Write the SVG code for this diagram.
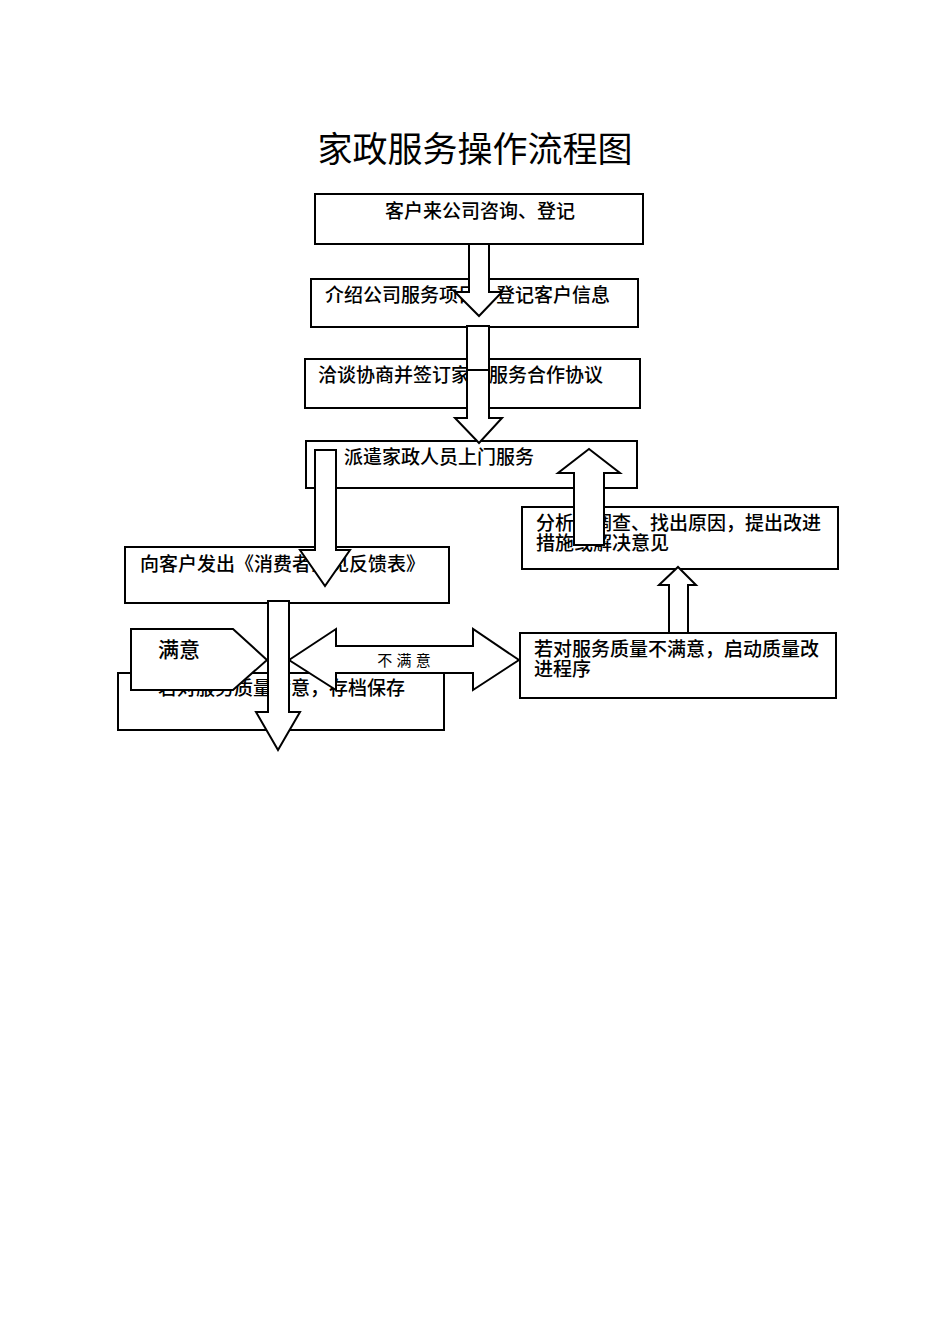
<svg xmlns="http://www.w3.org/2000/svg" width="950" height="1344" viewBox="0 0 950 1344">
<style>
.b{fill:#fff;stroke:#000;stroke-width:2}
.t{font-family:"Liberation Sans","Noto Sans CJK SC",sans-serif;font-size:19px;font-weight:500;fill:#000}
.a{fill:#fff;stroke:#000;stroke-width:2}
</style>
<rect width="950" height="1344" fill="#fff"/>
<text x="475" y="162" text-anchor="middle" style="font-family:'Liberation Serif','Noto Sans CJK SC',serif;font-size:35px">家政服务操作流程图</text>
<g id="n1"><rect class="b" x="315" y="194" width="328" height="50"/><text class="t" x="480" y="218" text-anchor="middle">客户来公司咨询、登记</text></g>
<g id="n2"><rect class="b" x="311" y="279" width="327" height="48"/><text class="t" x="325" y="302">介绍公司服务项目，登记客户信息</text></g>
<g id="n3"><rect class="b" x="305" y="359" width="335" height="49"/><text class="t" x="318" y="382">洽谈协商并签订家政服务合作协议</text></g>
<g id="n4"><rect class="b" x="306" y="441" width="331" height="47"/><text class="t" x="344" y="464">派遣家政人员上门服务</text></g>
<g id="n5"><rect class="b" x="125" y="547" width="324" height="56"/><text class="t" x="140" y="571">向客户发出《消费者意见反馈表》</text></g>
<g id="n6"><rect class="b" x="522" y="507" width="316" height="62"/><text class="t" x="536" y="530">分析、调查、找出原因，提出改进</text><text class="t" x="536" y="550">措施或解决意见</text></g>
<g id="n7"><rect class="b" x="520" y="633" width="316" height="65"/><text class="t" x="534" y="656">若对服务质量不满意，启动质量改</text><text class="t" x="534" y="676">进程序</text></g>
<g id="n8"><rect class="b" x="118" y="673" width="326" height="57"/><text class="t" x="158" y="695">若对服务质量满意，存档保存</text></g>
<g id="n9"><polygon class="b" points="131,629 233,629 267,660 233,690 131,690"/><text class="t" x="158" y="657" style="font-size:21px">满意</text></g>
<g id="connectors">
<polygon class="a" points="469,244 489,244 489,292 502,292 479,316 455,292 469,292"/>
<rect class="a" x="467" y="326" width="22" height="44"/>
<polygon class="a" points="467,370 489,370 489,418 502,418 479,443 455,418 467,418"/>
<polygon class="a" points="315,450 336,450 336,550 350,550 325,586 300,550 315,550"/>
<polygon class="a" points="574,545 604,545 604,473 620,473 589,449 558,473 574,473"/>
<polygon class="a" points="669,633 688,633 688,585 696,585 678,567 659,585 669,585"/>
<polygon class="a" points="289,660 336,629 336,646 473,646 473,629 519,660 473,690 473,673 336,673 336,690"/>
<text x="404" y="666" text-anchor="middle" style="font-family:'Liberation Sans','Noto Sans CJK SC',sans-serif;font-size:15px">不 满 意</text>
<polygon class="a" points="268,601 289,601 289,712 300,712 278,750 256,712 268,712"/>
</g>
</svg>
